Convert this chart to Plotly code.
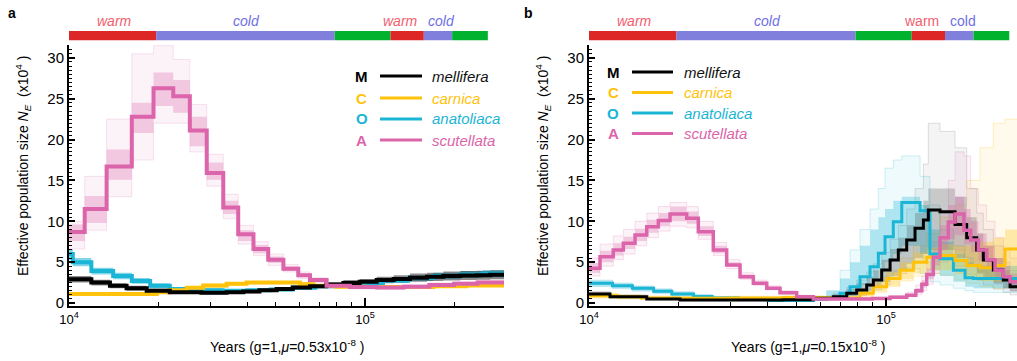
import numpy as np
import plotly.graph_objects as go

W, H = 1017, 361

# ---------------- climate periods drawn along the top (years) ----------------
period_edges = [1.0e4, 1.97e4, 7.9e4, 1.22e5, 1.58e5, 1.97e5, 2.6e5]
period_colors = ["#dd2626", "#8080dc", "#00b22d", "#dd2626", "#8080dc", "#00b22d"]
period_label_text = ["warm", "cold", "warm", "cold"]
period_label_years = [14200, 39800, 131300, 182000]
period_label_colors = ["#f2606e", "#6f6fe6", "#f2606e", "#6f6fe6"]

# ---------------- panel a  (g=1, mu=0.53e-8) ----------------
a_t_scut = [10000, 11300, 13400, 16300, 19300, 22500, 25600, 29200, 33200, 37300, 42000,
            47100, 53000, 59500, 65200, 74200, 88900, 110000, 135000, 165000, 200000, 240000]
a_n_scut = [8.7, 11.5, 16.7, 22.8, 26.3, 25.3, 21.1, 15.9, 11.7, 8.4, 6.6,
            5.3, 4.2, 3.4, 2.8, 2.1, 1.95, 1.9, 2.0, 2.2, 2.35, 2.5]
a_lo_scut = [6.6, 8.9, 13.0, 17.5, 22.0, 22.0, 18.5, 14.3, 10.3, 7.2, 5.8,
             4.6, 3.8, 3.0, 2.5, 1.8, 1.7, 1.65, 1.75, 1.95, 2.1, 2.2]
a_hi_scut = [10.0, 15.5, 22.5, 30.5, 31.5, 29.8, 24.3, 18.2, 13.3, 9.5, 7.5,
             6.0, 4.7, 3.8, 3.1, 2.4, 2.2, 2.15, 2.25, 2.45, 2.6, 2.8]
a_lo_in_scut = [7.6, 9.8, 15.1, 20.8, 24.1, 23.3, 19.2, 15.1, 10.9, 7.6, 6.1,
                4.9, 3.9, 3.2, 2.6, 1.9, 1.8, 1.75, 1.85, 2.05, 2.2, 2.35]
a_hi_in_scut = [9.6, 13.1, 18.8, 24.5, 28.2, 27.3, 22.8, 17.2, 12.5, 8.9, 7.1,
                5.7, 4.5, 3.6, 3.0, 2.3, 2.1, 2.05, 2.15, 2.35, 2.5, 2.65]

a_t_anat = [10000, 10300, 11900, 14100, 16300, 18800, 21900, 26300, 33000, 40000,
            48000, 57000, 68000, 80000, 95000, 115000, 140000, 170000, 210000, 250000]
a_n_anat = [6.0, 5.0, 3.9, 3.3, 2.7, 2.1, 1.7, 1.55, 1.5, 1.55,
            1.65, 1.85, 2.05, 2.2, 2.45, 2.75, 3.05, 3.3, 3.5, 3.6]
a_lo_anat = [5.3, 4.5, 3.5, 2.9, 2.35, 1.8, 1.45, 1.3, 1.3, 1.35,
             1.45, 1.65, 1.85, 2.0, 2.2, 2.45, 2.7, 2.9, 3.05, 3.15]
a_hi_anat = [6.6, 5.5, 4.3, 3.7, 3.05, 2.4, 1.95, 1.8, 1.7, 1.75,
             1.85, 2.05, 2.25, 2.45, 2.7, 3.05, 3.4, 3.7, 3.9, 4.0]

a_t_mell = [10000, 11900, 13750, 15650, 18300, 21900, 28000, 34100, 38800, 44000, 50300, 57000,
            65200, 74000, 84500, 96000, 109500, 125000, 141900, 162000, 183900, 210000, 238500, 265000]
a_n_mell = [2.9, 2.5, 2.1, 1.8, 1.5, 1.3, 1.25, 1.3, 1.4, 1.55, 1.7, 1.9,
            2.05, 2.25, 2.45, 2.6, 2.8, 2.95, 3.1, 3.2, 3.3, 3.35, 3.4, 3.45]
a_lo_mell = [2.5, 2.15, 1.8, 1.5, 1.25, 1.1, 1.05, 1.1, 1.2, 1.35, 1.5, 1.65,
             1.8, 1.95, 2.1, 2.25, 2.4, 2.5, 2.6, 2.7, 2.75, 2.8, 2.85, 2.9]
a_hi_mell = [3.3, 2.85, 2.4, 2.1, 1.75, 1.5, 1.45, 1.5, 1.6, 1.75, 1.9, 2.15,
             2.3, 2.55, 2.8, 2.95, 3.2, 3.4, 3.6, 3.7, 3.85, 3.9, 3.95, 4.0]

a_t_carn = [10000, 19800, 21900, 25000, 28400, 34100, 39800, 60300, 66900, 80000, 100000, 130000, 170000, 220000]
a_n_carn = [1.1, 1.3, 1.55, 1.85, 2.15, 2.35, 2.5, 2.3, 2.1, 2.0, 1.95, 1.95, 2.05, 2.15]
a_lo_carn = [0.9, 1.1, 1.35, 1.6, 1.9, 2.1, 2.3, 2.1, 1.9, 1.8, 1.75, 1.75, 1.85, 1.95]
a_hi_carn = [1.3, 1.5, 1.75, 2.05, 2.35, 2.55, 2.7, 2.5, 2.3, 2.2, 2.15, 2.15, 2.25, 2.35]

# ---------------- panel b  (g=1, mu=0.15e-8) ----------------
b_t_scut = [10000, 10890, 12070, 13050, 14290, 15650, 17120, 18740, 21330, 23340, 26210, 29080,
            32250, 35750, 39670, 43970, 50040, 56920, 66460, 90000, 103200, 117400, 126000, 132000,
            137100, 144300, 152000, 162100, 170800, 183000, 192900, 204600, 218300, 232800, 248300, 261600]
b_n_scut = [4.25, 5.67, 6.49, 7.3, 8.32, 9.34, 10.1, 10.9, 10.37, 8.73, 6.49, 4.65,
            3.22, 2.41, 1.8, 1.26, 0.77, 0.49, 0.5, 0.55, 0.7, 0.95, 1.5, 2.3,
            3.5, 5.6, 8.0, 9.9, 10.9, 8.9, 7.7, 6.5, 5.3, 4.0, 3.2, 2.6]
b_lo_scut = [3.3, 4.5, 5.3, 6.0, 7.0, 8.0, 8.8, 9.4, 9.2, 7.8, 5.8, 4.2,
             2.9, 2.15, 1.6, 1.1, 0.65, 0.4, 0.4, 0.45, 0.55, 0.75, 1.0, 1.5,
             2.3, 3.6, 5.0, 6.0, 6.5, 5.6, 4.6, 3.8, 3.0, 2.3, 1.8, 1.5]
b_hi_scut = [5.5, 7.2, 8.2, 9.0, 10.0, 11.0, 11.8, 12.3, 11.8, 10.0, 7.4, 5.3,
             3.7, 2.8, 2.1, 1.5, 0.95, 0.65, 0.65, 0.7, 0.9, 1.3, 2.2, 3.3,
             5.0, 7.5, 11.0, 15.0, 18.5, 18.0, 14.0, 12.0, 10.0, 8.0, 6.5, 5.5]
b_lo_in_scut = [3.7, 5.0, 5.8, 6.6, 7.6, 8.6, 9.4, 10.0, 9.7, 8.2, 6.1, 4.4,
                3.0, 2.25, 1.68, 1.17, 0.7, 0.45, 0.45, 0.5, 0.62, 0.85, 1.25, 1.9,
                2.9, 4.6, 6.5, 7.8, 8.3, 7.2, 6.2, 5.2, 4.2, 3.2, 2.6, 2.1]
b_hi_in_scut = [4.9, 6.4, 7.3, 8.1, 9.1, 10.2, 11.0, 11.8, 11.2, 9.4, 7.0, 5.0,
                3.5, 2.6, 1.95, 1.38, 0.85, 0.55, 0.57, 0.62, 0.8, 1.1, 1.8, 2.8,
                4.2, 6.6, 9.5, 12.0, 13.0, 11.5, 10.0, 8.5, 7.0, 5.5, 4.5, 3.6]

b_t_mell = [10000, 11770, 15650, 20250, 30000, 45000, 56920, 66460, 73750, 79660, 86100, 90630, 96720,
            103200, 110000, 117400, 125200, 133600, 138800, 152000, 170800, 186900, 202000, 212600,
            229800, 248300, 261600]
b_n_mell = [1.1, 0.77, 0.49, 0.37, 0.35, 0.4, 0.57, 0.77, 1.18, 1.59, 2.2, 2.8, 4.04,
            5.26, 6.49, 7.71, 9.14, 10.16, 11.38, 11.18, 9.6, 8.0, 6.49, 5.26,
            4.04, 2.8, 2.0]
b_lo_mell = [0.8, 0.55, 0.35, 0.25, 0.25, 0.3, 0.4, 0.5, 0.7, 0.9, 1.2, 1.6, 2.2,
             2.9, 3.6, 4.3, 5.0, 5.5, 5.8, 5.5, 4.5, 3.5, 2.8, 2.2,
             1.7, 1.3, 1.0]
b_hi_mell = [1.4, 1.0, 0.65, 0.5, 0.45, 0.55, 0.8, 1.2, 1.9, 2.8, 3.8, 4.8, 6.2,
             7.8, 9.5, 11.5, 14.0, 17.0, 22.0, 21.0, 19.0, 14.0, 11.0, 9.0,
             7.0, 5.0, 4.0]
b_lo_in_mell = [0.85, 0.6, 0.38, 0.28, 0.27, 0.32, 0.45, 0.6, 0.85, 1.1, 1.5, 1.9, 2.6,
                3.3, 4.0, 4.8, 5.5, 6.0, 6.5, 6.5, 5.5, 4.5, 3.6, 3.0,
                2.4, 1.8, 1.4]
b_hi_in_mell = [1.35, 0.95, 0.6, 0.47, 0.43, 0.5, 0.75, 1.1, 1.7, 2.4, 3.2, 4.0, 5.3,
                6.6, 8.0, 9.5, 11.0, 12.5, 14.0, 14.0, 13.0, 10.5, 8.5, 7.0,
                5.5, 4.0, 3.2]

b_t_anat = [10000, 12000, 14000, 16500, 19000, 22500, 26000, 32000, 40000, 56920, 63110, 70000, 75660,
            81740, 88340, 94220, 99220, 105800, 113000, 130200, 140600, 152000, 168600, 184500, 196800]
b_n_anat = [2.4, 2.1, 1.8, 1.45, 1.1, 0.8, 0.6, 0.45, 0.3, 0.45, 0.65, 1.18, 2.0,
            3.2, 4.45, 6.08, 8.1, 9.95, 12.3, 11.3, 6.0, 5.4, 4.0, 3.1, 3.0]
b_lo_anat = [2.0, 1.75, 1.45, 1.15, 0.85, 0.6, 0.45, 0.3, 0.2, 0.3, 0.4, 0.6, 0.9,
             1.4, 2.0, 2.6, 3.2, 3.8, 4.2, 3.6, 2.6, 2.2, 1.8, 1.5, 1.3]
b_hi_anat = [2.8, 2.45, 2.1, 1.75, 1.4, 1.05, 0.8, 0.6, 0.45, 0.8, 1.5, 4.0, 6.5,
             9.0, 11.5, 14.0, 16.5, 17.5, 18.0, 15.5, 12.0, 9.0, 7.0, 5.5, 4.5]
b_lo_in_anat = [2.05, 1.8, 1.5, 1.2, 0.9, 0.63, 0.48, 0.33, 0.22, 0.33, 0.5, 0.9, 1.4,
                2.2, 3.0, 4.0, 5.0, 6.0, 7.0, 6.0, 4.0, 3.3, 2.6, 2.0, 1.8]
b_hi_in_anat = [2.75, 2.4, 2.05, 1.7, 1.35, 1.0, 0.77, 0.58, 0.42, 0.7, 1.5, 3.0, 5.0,
                7.0, 9.0, 10.5, 11.5, 12.5, 13.0, 12.0, 9.0, 7.5, 6.0, 5.0, 4.5]

b_t_carn = [10000, 12500, 15000, 20000, 30000, 45000, 60000, 70000, 81740, 90630,
            100500, 111500, 123600, 137100, 152000, 170800, 186900, 207300, 229800, 251600]
b_n_carn = [0.9, 0.75, 0.62, 0.58, 0.62, 0.68, 0.65, 0.6, 1.2, 2.0,
            3.0, 4.0, 5.0, 5.6, 5.8, 5.2, 4.6, 4.3, 4.6, 6.6]
b_lo_carn = [0.6, 0.5, 0.42, 0.4, 0.45, 0.5, 0.48, 0.45, 0.8, 1.3,
             2.0, 2.7, 3.3, 3.6, 3.4, 2.8, 2.4, 2.0, 1.8, 2.0]
b_hi_carn = [1.2, 1.0, 0.85, 0.78, 0.82, 0.88, 0.85, 0.9, 1.7, 2.8,
             4.0, 5.5, 7.0, 8.5, 10.5, 12.0, 15.0, 19.0, 22.0, 22.5]
b_lo_in_carn = [0.65, 0.55, 0.45, 0.43, 0.48, 0.53, 0.5, 0.48, 0.85, 1.4,
                2.1, 2.9, 3.6, 4.0, 4.0, 3.5, 3.0, 2.7, 2.6, 3.0]
b_hi_in_carn = [1.15, 0.95, 0.8, 0.73, 0.77, 0.83, 0.8, 0.8, 1.6, 2.6,
                3.8, 5.0, 6.2, 6.8, 7.2, 7.0, 7.0, 7.5, 8.0, 9.0]

# legend entries
legend_letters = ["M", "C", "O", "A"]
legend_names = ["mellifera", "carnica", "anatoliaca", "scutellata"]

COL = {"mell": "#000000", "carn": "#ffc20a", "anat": "#1bb5d5", "scut": "#dc64aa"}
legend_colors = [COL["mell"], COL["carn"], COL["anat"], COL["scut"]]

A_XMAX_EXP = 5.4696   # right end of panel a x-axis (log10 years)
B_XMAX_EXP = 5.441    # right end of panel b x-axis (log10 years)

FONT = "Liberation Sans, Arial, Helvetica, sans-serif"


def rgba(hex_color, alpha):
    h = hex_color.lstrip("#")
    r, g, b = int(h[0:2], 16), int(h[2:4], 16), int(h[4:6], 16)
    return f"rgba({r},{g},{b},{alpha})"


def steps(t, v, t_end):
    # PSMC values hold until the next time point; extend the last one to the axis end
    return list(t) + [t_end], list(v) + [v[-1]]


fig = go.Figure()


def add_band(t, lo, hi, color, alpha, xa, ya, t_end, edge_alpha=0.0, edge_w=0.8):
    x, ylo = steps(t, lo, t_end)
    _, yhi = steps(t, hi, t_end)
    ln = dict(shape="hv", width=edge_w if edge_alpha > 0 else 0, color=rgba(color, edge_alpha))
    fig.add_trace(go.Scatter(x=x, y=ylo, mode="lines", line=ln, xaxis=xa, yaxis=ya,
                             showlegend=False, hoverinfo="skip"))
    fig.add_trace(go.Scatter(x=x, y=yhi, mode="lines", line=ln, fill="tonexty",
                             fillcolor=rgba(color, alpha), xaxis=xa, yaxis=ya,
                             showlegend=False, hoverinfo="skip"))


def add_main(t, n, color, width, xa, ya, t_end):
    x, y = steps(t, n, t_end)
    fig.add_trace(go.Scatter(x=x, y=y, mode="lines", line=dict(shape="hv", width=width, color=color),
                             xaxis=xa, yaxis=ya, showlegend=False, hoverinfo="skip"))


a_end = 10 ** A_XMAX_EXP
b_end = 10 ** B_XMAX_EXP

# ---- panel a: bootstrap spread, then the main estimates ----
add_band(a_t_scut, a_lo_scut, a_hi_scut, COL["scut"], 0.08, "x", "y", a_end, edge_alpha=0.22)
add_band(a_t_scut, a_lo_in_scut, a_hi_in_scut, COL["scut"], 0.3, "x", "y", a_end)
add_band(a_t_anat, a_lo_anat, a_hi_anat, COL["anat"], 0.55, "x", "y", a_end)
add_band(a_t_carn, a_lo_carn, a_hi_carn, COL["carn"], 0.55, "x", "y", a_end)
add_band(a_t_mell, a_lo_mell, a_hi_mell, COL["mell"], 0.45, "x", "y", a_end)
add_main(a_t_anat, a_n_anat, COL["anat"], 4, "x", "y", a_end)
add_main(a_t_carn, a_n_carn, COL["carn"], 4, "x", "y", a_end)
add_main(a_t_mell, a_n_mell, COL["mell"], 4, "x", "y", a_end)
add_main(a_t_scut, a_n_scut, COL["scut"], 4, "x", "y", a_end)

# ---- panel b ----
add_band(b_t_anat, b_lo_anat, b_hi_anat, COL["anat"], 0.07, "x2", "y2", b_end, edge_alpha=0.25)
add_band(b_t_mell, b_lo_mell, b_hi_mell, "#404040", 0.06, "x2", "y2", b_end, edge_alpha=0.2)
add_band(b_t_carn, b_lo_carn, b_hi_carn, COL["carn"], 0.08, "x2", "y2", b_end, edge_alpha=0.3)
add_band(b_t_scut, b_lo_scut, b_hi_scut, COL["scut"], 0.08, "x2", "y2", b_end, edge_alpha=0.25)
add_band(b_t_anat, b_lo_in_anat, b_hi_in_anat, COL["anat"], 0.3, "x2", "y2", b_end)
add_band(b_t_mell, b_lo_in_mell, b_hi_in_mell, "#303030", 0.22, "x2", "y2", b_end)
add_band(b_t_carn, b_lo_in_carn, b_hi_in_carn, COL["carn"], 0.3, "x2", "y2", b_end)
add_band(b_t_scut, b_lo_in_scut, b_hi_in_scut, COL["scut"], 0.3, "x2", "y2", b_end)
add_main(b_t_anat, b_n_anat, COL["anat"], 3, "x2", "y2", b_end)
add_main(b_t_carn, b_n_carn, COL["carn"], 3, "x2", "y2", b_end)
add_main(b_t_mell, b_n_mell, COL["mell"], 3, "x2", "y2", b_end)
add_main(b_t_scut, b_n_scut, COL["scut"], 3.5, "x2", "y2", b_end)

# ---- climate bars ----
for xa, ya in (("x", "y3"), ("x2", "y4")):
    for i, c in enumerate(period_colors):
        fig.add_trace(go.Scatter(x=[period_edges[i], period_edges[i + 1]], y=[0, 0], mode="lines",
                                 line=dict(color=c, width=9.5), xaxis=xa, yaxis=ya,
                                 showlegend=False, hoverinfo="skip"))

annotations = []
shapes = []

# period labels above the bars
for xa, italic_all in (("x", True), ("x2", False)):
    for i, (txt, yr, col) in enumerate(zip(period_label_text, period_label_years, period_label_colors)):
        s = f"<i>{txt}</i>" if (italic_all or i < 2) else txt
        annotations.append(dict(x=np.log10(yr), xref=xa, y=1 - 20.5 / H, yref="paper", text=s,
                                showarrow=False, xanchor="center", yanchor="middle",
                                font=dict(size=14, color=col, family=FONT)))

# legends
for (lx, l0, l1, tx, rows) in ((361.5, 380, 422, 430, [76, 98, 119, 140]),
                               (613, 632, 673, 682, [72, 92.5, 113, 133.5])):
    for letter, name, col, ry in zip(legend_letters, legend_names, legend_colors, rows):
        annotations.append(dict(x=lx / W, y=1 - ry / H, xref="paper", yref="paper", text=f"<b>{letter}</b>",
                                showarrow=False, xanchor="center", yanchor="middle",
                                font=dict(size=15, color=col, family=FONT)))
        annotations.append(dict(x=tx / W, y=1 - ry / H, xref="paper", yref="paper", text=f"<i>{name}</i>",
                                showarrow=False, xanchor="left", yanchor="middle",
                                font=dict(size=15, color=("#111111" if col == "#000000" else col), family=FONT)))
        shapes.append(dict(type="line", xref="paper", yref="paper", x0=l0 / W, x1=l1 / W,
                           y0=1 - ry / H, y1=1 - ry / H, line=dict(color=col, width=3)))

# axis titles and panel letters
ytitle = "Effective population size <i>N<sub>E</sub></i>  (x10<sup>4</sup> )"
for xpx in (23, 543):
    annotations.append(dict(x=xpx / W, y=1 - 166 / H, xref="paper", yref="paper", text=ytitle,
                            textangle=-90, showarrow=False, xanchor="center", yanchor="middle",
                            font=dict(size=14, family=FONT, color="black")))
for xpx, mu in ((287, "0.53"), (808, "0.15")):
    annotations.append(dict(x=xpx / W, y=1 - 346 / H, xref="paper", yref="paper",
                            text=f"Years (g=1,<i>μ</i>={mu}x10<sup>-8</sup> )",
                            showarrow=False, xanchor="center", yanchor="middle",
                            font=dict(size=14, family=FONT, color="black")))
for xpx, letter in ((12, "a"), (528, "b")):
    annotations.append(dict(x=xpx / W, y=1 - 13 / H, xref="paper", yref="paper", text=f"<b>{letter}</b>",
                            showarrow=False, xanchor="center", yanchor="middle",
                            font=dict(size=14, family=FONT, color="black")))

minor_x = [2e4, 3e4, 4e4, 5e4, 6e4, 7e4, 8e4, 9e4, 2e5]
xax = dict(type="log", tickmode="array", tickvals=[1e4, 1e5], automargin=False,
           ticktext=["10<sup>4</sup>", "10<sup>5</sup>"], ticks="inside", ticklen=8, tickwidth=1.5,
           tickcolor="black", showline=True, linewidth=2, linecolor="black", showgrid=False,
           zeroline=False, tickfont=dict(size=13, family=FONT, color="black"),
           minor=dict(tickvals=minor_x, ticks="inside", ticklen=4, tickwidth=1, tickcolor="black",
                      showgrid=False))
yax = dict(tickmode="linear", tick0=0, dtick=5, ticks="inside", ticklen=6, tickwidth=1.5,
           tickcolor="black", showline=True, linewidth=2, linecolor="black", showgrid=False,
           zeroline=False, range=[-0.37, 31.58], domain=[1 - 306 / H, 1 - 45 / H], automargin=False,
           tickfont=dict(size=15, family=FONT, color="black"),
           minor=dict(dtick=0.5, ticks="inside", ticklen=3, tickwidth=1, tickcolor="black",
                      showgrid=False))
bar_ax = dict(domain=[1 - 40.5 / H, 1 - 31 / H], range=[-1, 1], visible=False, fixedrange=True,
              automargin=False)

fig.update_layout(
    width=W, height=H, margin=dict(l=0, r=0, t=0, b=0, autoexpand=False),
    plot_bgcolor="white", paper_bgcolor="white",
    font=dict(family=FONT, color="black"),
    xaxis=dict(xax, domain=[69 / W, 504 / W], range=[4, A_XMAX_EXP], anchor="y"),
    yaxis=dict(yax, anchor="x"),
    xaxis2=dict(xax, domain=[589 / W, 1.0], range=[4, B_XMAX_EXP], anchor="y2"),
    yaxis2=dict(yax, anchor="x2"),
    yaxis3=dict(bar_ax, anchor="x"),
    yaxis4=dict(bar_ax, anchor="x2"),
    annotations=annotations, shapes=shapes, showlegend=False,
)

fig.write_html("out.html")
